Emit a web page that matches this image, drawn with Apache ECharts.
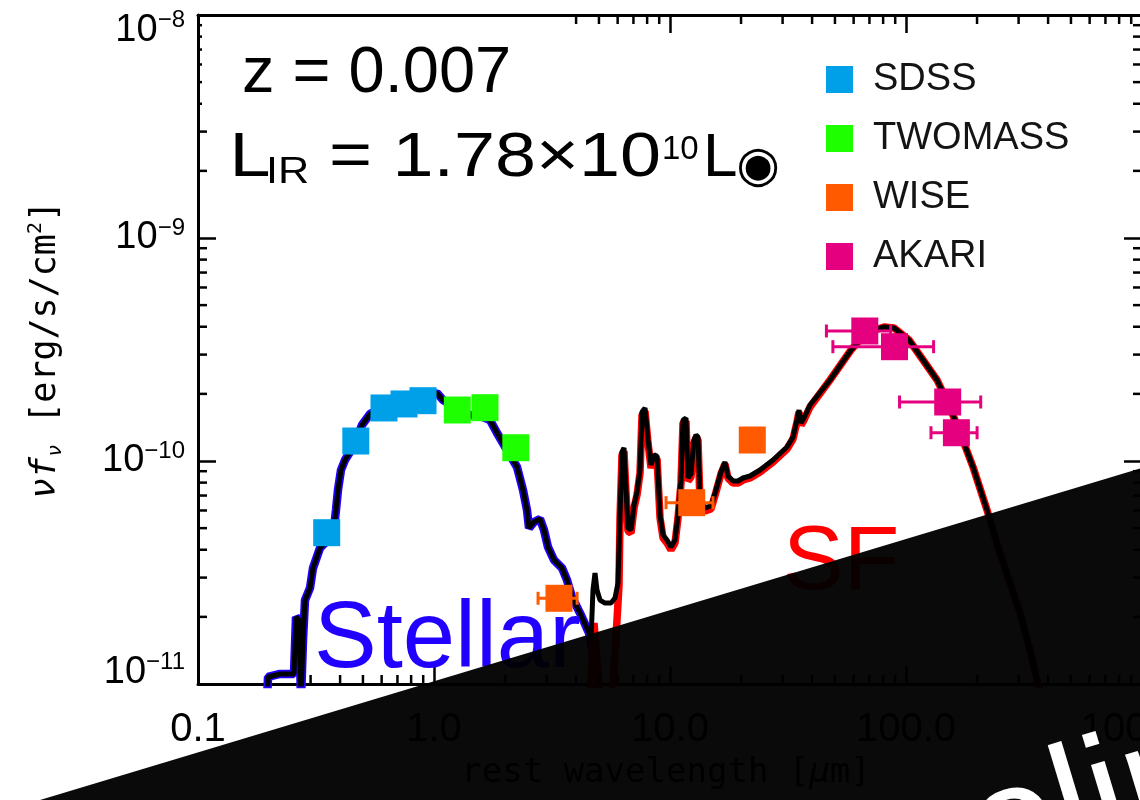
<!DOCTYPE html>
<html>
<head>
<meta charset="utf-8">
<title>SED</title>
<script src="https://cdn.jsdelivr.net/npm/echarts@6/dist/echarts.min.js"></script>
<style>
  html, body { margin: 0; padding: 0; background: #fff; }
  #chart { width: 1140px; height: 800px; }
</style>
</head>
<body>
<div id="chart"></div>
<script>
// Axis ranges: rest wavelength [um] and nu*f_nu [erg/s/cm^2]
const xRange = [0.1, 1000];
const yRange = [1e-11, 1e-8];
const xTickLabels = ['0.1', '1.0', '10.0', '100.0', '1000.0'];
const yTickExponents = ['\u221211', '\u221210', '\u22129', '\u22128'];
const xMinorTicks = [0.2, 0.3, 0.4, 0.5, 0.6, 0.7, 0.8, 0.9, 2, 3, 4, 5, 6, 7, 8, 9,
  20, 30, 40, 50, 60, 70, 80, 90, 200, 300, 400, 500, 600, 700, 800, 900];
const yMinorTicks = [2e-11, 3e-11, 4e-11, 5e-11, 6e-11, 7e-11, 8e-11, 9e-11,
  2e-10, 3e-10, 4e-10, 5e-10, 6e-10, 7e-10, 8e-10, 9e-10,
  2e-9, 3e-9, 4e-9, 5e-9, 6e-9, 7e-9, 8e-9, 9e-9];

// Best-fit total model SED [wavelength, nu f_nu]
const totalModel = [
  [0.1961, 8.48e-12], [0.198, 1.075e-11], [0.2226, 1.109e-11], [0.2551, 1.109e-11],
  [0.2602, 1.997e-11], [0.2679, 1.936e-11], [0.2732, 8.48e-12], [0.2786, 1.575e-11],
  [0.2841, 2.380e-11], [0.2983, 2.695e-11], [0.3072, 3.313e-11], [0.3288, 4.073e-11],
  [0.3521, 4.378e-11], [0.3733, 4.563e-11], [0.3843, 6.030e-11], [0.3919, 7.413e-11],
  [0.4036, 9.114e-11], [0.4197, 1.010e-10], [0.4406, 1.097e-10], [0.4671, 1.242e-10],
  [0.4953, 1.450e-10], [0.5356, 1.625e-10], [0.6079, 1.729e-10], [0.7177, 1.820e-10],
  [0.8471, 1.877e-10], [0.9617, 1.956e-10], [1.0297, 2.018e-10], [1.0918, 1.877e-10],
  [1.2515, 1.729e-10], [1.4209, 1.608e-10], [1.6129, 1.575e-10], [1.7272, 1.527e-10],
  [1.8493, 1.335e-10], [2.0389, 1.120e-10], [2.2477, 9.400e-11], [2.3829, 7.413e-11],
  [2.4777, 6.030e-11], [2.5266, 5.006e-11], [2.6530, 5.327e-11], [2.8127, 5.495e-11],
  [2.9245, 4.904e-11], [3.0410, 4.115e-11], [3.2243, 3.597e-11], [3.4855, 3.313e-11],
  [3.6596, 2.927e-11], [3.8427, 2.456e-11], [4.1553, 2.081e-11], [4.3633, 1.858e-11],
  [4.5368, 1.693e-11], [4.6262, 1.575e-11], [4.7174, 2.640e-11], [4.8105, 3.146e-11],
  [4.9054, 2.640e-11], [5.0510, 2.380e-11], [5.3035, 2.307e-11], [5.6234, 2.307e-11],
  [5.8473, 2.431e-11], [6.0211, 2.838e-11], [6.1400, 5.727e-11], [6.2610, 1.097e-10],
  [6.3844, 1.144e-10], [6.5103, 7.413e-11], [6.6386, 5.006e-11], [6.8361, 4.904e-11],
  [7.0394, 6.350e-11], [7.2487, 7.262e-11], [7.4643, 9.114e-11], [7.6113, 1.659e-10],
  [7.8376, 1.729e-10], [8.0707, 1.242e-10], [8.3107, 9.596e-11], [8.5578, 1.064e-10],
  [8.8124, 1.053e-10], [9.0744, 5.727e-11], [9.3443, 4.658e-11], [9.7118, 4.423e-11],
  [10.098, 4.115e-11], [10.500, 4.423e-11], [10.812, 5.727e-11], [11.134, 8.219e-11],
  [11.353, 1.527e-10], [11.691, 1.559e-10], [11.921, 8.391e-11], [12.275, 8.745e-11],
  [12.640, 1.242e-10], [12.889, 1.308e-10], [13.143, 1.281e-10], [13.402, 6.686e-11],
  [14.073, 6.156e-11], [14.920, 6.285e-11], [15.664, 7.413e-11], [16.446, 8.928e-11],
  [17.101, 9.897e-11], [17.609, 8.566e-11], [18.493, 8.135e-11], [19.421, 8.135e-11],
  [20.389, 8.391e-11], [21.829, 8.566e-11], [24.063, 9.114e-11], [27.326, 1.010e-10],
  [31.318, 1.156e-10], [33.205, 1.281e-10], [34.527, 1.527e-10], [35.208, 1.693e-10],
  [35.902, 1.481e-10], [36.969, 1.559e-10], [39.199, 1.783e-10], [47.645, 2.308e-10],
  [58.473, 3.146e-10], [67.685, 3.750e-10], [80.707, 3.990e-10], [88.955, 3.948e-10],
  [102.97, 3.488e-10], [118.07, 2.837e-10], [135.38, 2.308e-10], [150.67, 1.820e-10],
  [167.73, 1.377e-10], [192.30, 9.400e-11], [220.48, 6.030e-11], [245.36, 4.115e-11],
  [273.26, 2.927e-11], [304.10, 2.081e-11], [335.33, 1.420e-11], [359.02, 1.042e-11],
  [388.10, 6.897e-12]
];

// Stellar component
const stellarModel = [
  [0.1961, 8.48e-12], [0.198, 1.075e-11], [0.2226, 1.109e-11], [0.2551, 1.109e-11],
  [0.2602, 1.997e-11], [0.2679, 1.936e-11], [0.2732, 8.48e-12], [0.2786, 1.575e-11],
  [0.2841, 2.380e-11], [0.2983, 2.695e-11], [0.3072, 3.313e-11], [0.3288, 4.073e-11],
  [0.3521, 4.378e-11], [0.3733, 4.563e-11], [0.3843, 6.030e-11], [0.3919, 7.413e-11],
  [0.4036, 9.114e-11], [0.4197, 1.010e-10], [0.4406, 1.097e-10], [0.4671, 1.242e-10],
  [0.4953, 1.450e-10], [0.5356, 1.625e-10], [0.6079, 1.729e-10], [0.7177, 1.820e-10],
  [0.8471, 1.877e-10], [0.9617, 1.956e-10], [1.0297, 2.018e-10], [1.0918, 1.877e-10],
  [1.2515, 1.729e-10], [1.4209, 1.608e-10], [1.6129, 1.575e-10], [1.7272, 1.527e-10],
  [1.8493, 1.335e-10], [2.0389, 1.120e-10], [2.2477, 9.400e-11], [2.3829, 7.413e-11],
  [2.4777, 6.030e-11], [2.5266, 5.006e-11], [2.6530, 5.327e-11], [2.8127, 5.495e-11],
  [2.9245, 4.904e-11], [3.0410, 4.115e-11], [3.2243, 3.597e-11], [3.4855, 3.313e-11],
  [3.6596, 2.927e-11], [3.8427, 2.456e-11], [4.1553, 2.081e-11], [4.3633, 1.858e-11],
  [4.5368, 1.693e-11], [4.671, 1.450e-11], [4.8105, 1.217e-11], [4.953, 1.0e-11],
  [5.100, 7.646e-12]
];

// Star-formation (dust) component
const sfModel = [
  [4.581, 8.478e-12], [4.764, 1.877e-11], [4.9054, 1.281e-11], [5.051, 8.478e-12],
  [5.678, 8.478e-12], [5.963, 1.936e-11], [6.080, 2.780e-11], [6.140, 5.552e-11],
  [6.261, 1.064e-10], [6.3844, 1.108e-10], [6.5103, 7.186e-11], [6.6386, 4.853e-11],
  [6.8361, 4.754e-11], [7.0394, 6.156e-11], [7.2487, 7.040e-11], [7.4643, 8.836e-11],
  [7.6113, 1.608e-10], [7.8376, 1.676e-10], [8.0707, 1.204e-10], [8.3107, 9.304e-11],
  [8.5578, 1.032e-10], [8.8124, 1.021e-10], [9.0744, 5.552e-11], [9.3443, 4.516e-11],
  [9.7118, 4.288e-11], [10.098, 3.990e-11], [10.500, 4.288e-11], [10.812, 5.552e-11],
  [11.134, 7.969e-11], [11.353, 1.481e-10], [11.691, 1.511e-10], [11.921, 8.135e-11],
  [12.275, 8.478e-11], [12.640, 1.204e-10], [12.889, 1.268e-10], [13.143, 1.242e-10],
  [13.402, 6.482e-11], [14.073, 5.968e-11], [14.920, 6.093e-11], [15.664, 7.262e-11],
  [16.446, 8.745e-11], [17.101, 9.695e-11], [17.609, 8.391e-11], [18.493, 7.969e-11],
  [19.421, 7.969e-11], [20.389, 8.219e-11], [21.829, 8.391e-11], [24.063, 8.928e-11],
  [27.326, 9.897e-11], [31.318, 1.132e-10], [33.205, 1.255e-10], [34.527, 1.496e-10],
  [35.208, 1.659e-10], [35.902, 1.450e-10], [36.969, 1.527e-10], [39.199, 1.747e-10],
  [47.645, 2.308e-10], [58.473, 3.146e-10], [67.685, 3.750e-10], [80.707, 3.990e-10],
  [88.955, 3.948e-10], [102.97, 3.488e-10], [118.07, 2.837e-10], [135.38, 2.308e-10],
  [150.67, 1.820e-10], [167.73, 1.377e-10], [192.30, 9.400e-11], [220.48, 6.030e-11],
  [245.36, 4.115e-11], [273.26, 2.927e-11], [304.10, 2.081e-11], [335.33, 1.420e-11],
  [359.02, 1.042e-11], [388.10, 6.897e-12]
];

// Photometry [wavelength, nu f_nu] and, where measured, [lambda_low, lambda_high]
const sdssPhot = [[0.351, 4.77e-11], [0.4663, 1.229e-10], [0.6139, 1.729e-10], [0.7462, 1.802e-10], [0.8984, 1.864e-10]];
const twomassPhot = [[1.2552, 1.693e-10], [1.6446, 1.734e-10], [2.2215, 1.147e-10]];
const wisePhot = [[3.385, 2.423e-11], [12.36, 6.502e-11], [22.32, 1.242e-10]];
const wiseRange = [[2.76, 4.04], [9.62, 15.21], null];
const akariPhot = [[66.9, 3.828e-10], [89.4, 3.255e-10], [150.2, 1.839e-10], [163.5, 1.339e-10]];
const akariRange = [[46.0, 86.1], [49.0, 130.9], [93.9, 207.3], [127.6, 200.1]];

const bandNames = ['SDSS', 'TWOMASS', 'WISE', 'AKARI'];
const bandColors = ['#00a0e9', '#1eff00', '#ff5a00', '#e4007f'];

const FONT = '"Liberation Sans", Arial, Helvetica, sans-serif';
const MONO = '"DejaVu Sans Mono", monospace';

const chart = echarts.init(document.getElementById('chart'), null, { renderer: 'canvas' });

function minorTicks(values, dir, len) {
  return {
    type: 'custom',
    silent: true,
    clip: false,
    z: 3,
    data: values.map(v => dir === 'x' ? [v, yRange[0]] : [xRange[0], v]),
    encode: { x: 0, y: 1 },
    renderItem(params, api) {
      const st = { stroke: '#000', lineWidth: 2.5 };
      if (dir === 'x') {
        const v = api.value(0);
        const a = api.coord([v, yRange[0]]);
        const b = api.coord([v, yRange[1]]);
        return { type: 'group', children: [
          { type: 'line', shape: { x1: a[0], y1: a[1], x2: a[0], y2: a[1] - len }, style: st },
          { type: 'line', shape: { x1: b[0], y1: b[1], x2: b[0], y2: b[1] + len }, style: st }
        ] };
      }
      const v = api.value(1);
      const a = api.coord([xRange[0], v]);
      const b = api.coord([xRange[1], v]);
      return { type: 'group', children: [
        { type: 'line', shape: { x1: a[0], y1: a[1], x2: a[0] + len, y2: a[1] }, style: st },
        { type: 'line', shape: { x1: b[0], y1: b[1], x2: b[0] - len, y2: b[1] }, style: st }
      ] };
    }
  };
}

function errorBars(points, ranges, color) {
  const data = [];
  points.forEach((p, i) => { if (ranges[i]) data.push([p[0], p[1], ranges[i][0], ranges[i][1]]); });
  return {
    type: 'custom',
    silent: true,
    z: 4,
    data: data,
    encode: { x: 0, y: 1 },
    renderItem(params, api) {
      const f = api.value(1);
      const lo = api.coord([api.value(2), f]);
      const hi = api.coord([api.value(3), f]);
      const st = { stroke: color, lineWidth: 3 };
      const cap = 6.5;
      return { type: 'group', children: [
        { type: 'line', shape: { x1: lo[0], y1: lo[1], x2: hi[0], y2: hi[1] }, style: st },
        { type: 'line', shape: { x1: lo[0], y1: lo[1] - cap, x2: lo[0], y2: lo[1] + cap }, style: st },
        { type: 'line', shape: { x1: hi[0], y1: hi[1] - cap, x2: hi[0], y2: hi[1] + cap }, style: st }
      ] };
    }
  };
}

function photSeries(name, data, color) {
  return {
    name: name, type: 'scatter', data: data, symbol: 'rect', symbolSize: 27,
    itemStyle: { color: color, opacity: 1 }, z: 5, silent: true
  };
}

function yLabel(v) {
  const idx = Math.round(Math.log10(v)) + 11;
  const tag = idx === 0 ? 'B' : (idx === yTickExponents.length - 1 ? 'T' : '');
  return '{b' + tag + '|10}{s' + tag + '|' + yTickExponents[idx] + '}';
}

// plain text helper for the annotation layer
function label(text, x, y, size, color, extra) {
  return Object.assign({
    type: 'text', z: 7, silent: true, x: x, y: y,
    style: { text: text, fontFamily: FONT, fontSize: size, fill: color, align: 'left', verticalAlign: 'middle' }
  }, extra || {});
}

const axisLineStyle = { lineStyle: { color: '#000', width: 3 } };
const majorTick = { inside: true, length: 18, lineStyle: { color: '#000', width: 2.5 } };
const wide = 1.17;

const option = {
  animation: false,
  backgroundColor: '#fff',
  grid: { left: 198, top: 15, width: 944, height: 669, containLabel: false, outerBoundsMode: 'none' },
  legend: {
    data: bandNames,
    orient: 'vertical',
    left: 826, top: 60.5,
    padding: 0,
    itemWidth: 27, itemHeight: 27, itemGap: 21,
    icon: 'rect',
    selectedMode: false,
    textStyle: { fontFamily: FONT, fontSize: 38, color: '#141414', padding: [0, 0, 0, 15], lineHeight: 27 }
  },
  xAxis: [
    {
      type: 'log', logBase: 10, min: xRange[0], max: xRange[1],
      axisLine: axisLineStyle, axisTick: majorTick, splitLine: { show: false },
      axisLabel: {
        margin: 26, fontFamily: FONT, fontSize: 40, color: '#000',
        formatter: v => xTickLabels[Math.round(Math.log10(v)) + 1]
      }
    },
    {
      type: 'log', logBase: 10, min: xRange[0], max: xRange[1], position: 'top',
      axisLine: axisLineStyle, axisTick: majorTick, splitLine: { show: false },
      axisLabel: { show: false }
    }
  ],
  yAxis: [
    {
      type: 'log', logBase: 10, min: yRange[0], max: yRange[1],
      axisLine: axisLineStyle, axisTick: majorTick, splitLine: { show: false },
      axisLabel: {
        margin: 13, color: '#000', fontFamily: FONT,
        formatter: yLabel,
        rich: {
          b: { fontFamily: FONT, fontSize: 38, lineHeight: 44 },
          s: { fontFamily: FONT, fontSize: 24, lineHeight: 24, verticalAlign: 'top' },
          bT: { fontFamily: FONT, fontSize: 38, lineHeight: 44, padding: [31, 0, 0, 0] },
          sT: { fontFamily: FONT, fontSize: 24, lineHeight: 24, verticalAlign: 'top', padding: [15.5, 0, 0, 0] },
          bB: { fontFamily: FONT, fontSize: 38, lineHeight: 44, padding: [0, 0, 23, 0] },
          sB: { fontFamily: FONT, fontSize: 24, lineHeight: 24, verticalAlign: 'middle', padding: [0, 0, 43, 0] }
        }
      }
    },
    {
      type: 'log', logBase: 10, min: yRange[0], max: yRange[1], position: 'right',
      axisLine: axisLineStyle, axisTick: majorTick, splitLine: { show: false },
      axisLabel: { show: false }
    }
  ],
  series: [
    minorTicks(xMinorTicks, 'x', 9),
    minorTicks(yMinorTicks, 'y', 9),
    { name: 'Stellar', type: 'line', data: stellarModel, symbol: 'none', silent: true, z: 2,
      lineStyle: { color: '#2200ff', width: 8.5 } },
    { name: 'SF', type: 'line', data: sfModel, symbol: 'none', silent: true, z: 2,
      lineStyle: { color: '#ff0000', width: 7.5 } },
    { name: 'Total', type: 'line', data: totalModel, symbol: 'none', silent: true, z: 3,
      lineStyle: { color: '#000', width: 5 } },
    errorBars(wisePhot, wiseRange, bandColors[2]),
    errorBars(akariPhot, akariRange, bandColors[3]),
    photSeries(bandNames[0], sdssPhot, bandColors[0]),
    photSeries(bandNames[1], twomassPhot, bandColors[1]),
    photSeries(bandNames[2], wisePhot, bandColors[2]),
    photSeries(bandNames[3], akariPhot, bandColors[3])
  ],
  graphic: [
    // white backing behind the redshift / luminosity annotation
    { type: 'rect', z: 6, silent: true, shape: { x: 202, y: 17, width: 358, height: 101 }, style: { fill: '#fff' } },
    label('z = 0.007', 242, 74.5, 65, '#000'),
    label('L', 229.5, 159, 63, '#000', { scaleX: wide }),
    label('IR', 266, 173, 37, '#000', { scaleX: wide }),
    label('= 1.78\u00d710', 329, 159, 63, '#000', { scaleX: wide }),
    label('10', 662, 150, 33, '#000'),
    label('L', 703, 159, 62, '#000'),
    { type: 'text', z: 7, silent: true, x: 758, y: 168.5,
      style: { text: '\u25c9', fontFamily: '"DejaVu Sans", sans-serif', fontSize: 50, fill: '#000', align: 'center', verticalAlign: 'middle' } },
    label('Stellar', 314, 641, 94, '#2200ff'),
    label('SF', 783, 563.5, 91, '#ff0000'),
    // axis titles
    { type: 'text', z: 7, silent: true, x: 46, y: 350, rotation: Math.PI / 2,
      style: {
        text: '{it|\u03bdf}{sub|\u03bd} [erg/s/cm{sup|2}]',
        align: 'center', verticalAlign: 'middle', fill: '#000',
        fontFamily: MONO, fontSize: 35,
        rich: {
          it: { fontFamily: MONO, fontSize: 35, fontStyle: 'italic', lineHeight: 40 },
          sub: { fontFamily: MONO, fontSize: 20, fontStyle: 'italic', lineHeight: 30, verticalAlign: 'bottom' },
          sup: { fontFamily: MONO, fontSize: 20, lineHeight: 24, verticalAlign: 'top' }
        }
      } },
    { type: 'text', z: 7, silent: true, x: 666, y: 773,
      style: {
        text: 'rest wavelength [{it|\u03bc}m]',
        align: 'center', verticalAlign: 'middle', fill: '#000',
        fontFamily: MONO, fontSize: 34,
        rich: { it: { fontFamily: MONO, fontSize: 34, fontStyle: 'italic' } }
      } },
    // diagonal banner across the lower right corner
    { type: 'polygon', z: 100, silent: true,
      shape: { points: [[40, 800], [1141, 468.2], [1141, 801], [40, 801]] },
      style: { fill: '#000', opacity: 0.96 } },
    { type: 'text', z: 101, silent: true, x: 820, y: 889, rotation: 0.2933,
      style: { text: 'Preliminary', fontFamily: FONT, fontSize: 160, fill: '#fff', align: 'left', verticalAlign: 'middle' } }
  ]
};

chart.setOption(option);
</script>
</body>
</html>
